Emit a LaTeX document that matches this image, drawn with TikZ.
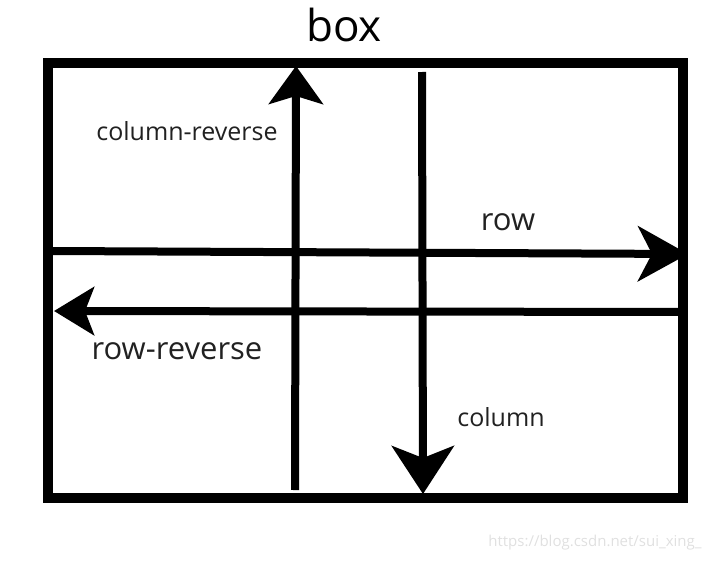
\documentclass[tikz,border=0pt]{standalone}
\usepackage{fontspec}
\setmainfont{Open Sans}
\usetikzlibrary{arrows.meta}
\tikzset{
  flow/.style={line width=8pt, -{Stealth[length=44pt, width=56pt, inset=12pt]}},
  flowlabel/.style={font=\fontsize{25}{29}\selectfont, text=black!87, inner sep=0pt}
}
\begin{document}
\begin{tikzpicture}[x=1pt, y=-1pt]
\useasboundingbox (0,0) rectangle (710,562);
\node [draw, line width=10pt, minimum width=635pt, minimum height=435pt, inner sep=0pt] (frame) at (365.5,280.5) {};
\node [font=\fontsize{44}{48}\selectfont, inner sep=0pt] (title) at (344,25) {box};

% arrow end points
\coordinate (colrevstart) at (295,490);
\coordinate (colrevend) at (296,66);
\coordinate (colstart) at (422,72);
\coordinate (colend) at (423,494);
\coordinate (rowstart) at (52,251);
\coordinate (rowend) at (688,254);
\coordinate (rowrevstart) at (683,312);
\coordinate (rowrevend) at (54,311);

\draw [flow, -{Stealth[length=38pt, width=54pt, inset=8pt]}] (colrevstart) -- (colrevend);
\draw [flow, -{Stealth[length=48pt, width=62pt, inset=12pt]}] (colstart) -- (colend);
\draw [flow, -{Stealth[length=50pt, width=55pt, inset=14pt]}] (rowstart) -- (rowend);
\draw [flow, -{Stealth[length=40pt, width=48pt, inset=9pt]}] (rowrevstart) -- (rowrevend);

\node [flowlabel] (colrevlabel) at (187,131) {column-reverse};
\node [flowlabel, font=\fontsize{31}{35}\selectfont] (rowlabel) at (508,222) {row};
\node [flowlabel, font=\fontsize{31}{35}\selectfont] (rowrevlabel) at (177,351) {row-reverse};
\node [flowlabel] (collabel) at (501,417) {column};
\node [font=\fontsize{15}{18}\selectfont, text=black!12, inner sep=0pt] (mark) at (595,543) {https://blog.csdn.net/sui\_xing\_};
\end{tikzpicture}
\end{document}
